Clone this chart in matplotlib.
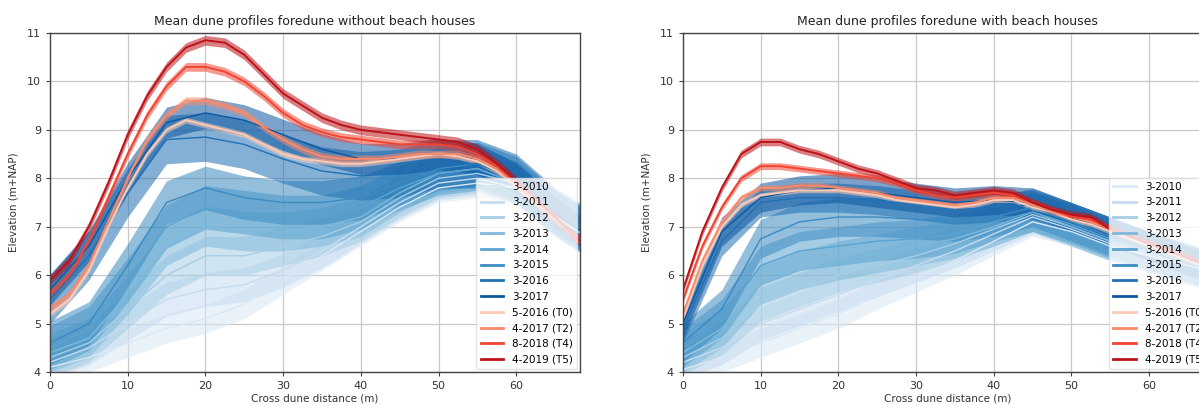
import numpy as np
import matplotlib
matplotlib.use("Agg")
import matplotlib.pyplot as plt

# ---------------- data ----------------
blue_labels = ["3-2010", "3-2011", "3-2012", "3-2013", "3-2014", "3-2015", "3-2016", "3-2017"]
red_labels = ["5-2016 (T0)", "4-2017 (T2)", "8-2018 (T4)", "4-2019 (T5)"]

x_blue = [0, 5, 10, 15, 20, 25, 30, 35, 40, 45, 50, 55, 60, 65, 70]
x_red = [0, 2.5, 5, 7.5, 10, 12.5, 15, 17.5, 20, 22.5, 25, 27.5, 30, 32.5, 35, 37.5,
         40, 42.5, 45, 47.5, 50, 52.5, 55, 57.5, 60, 62.5, 65, 67.5, 70]

# Left panel: foredune without beach houses
left_blue_mean = [
    [4.1, 4.3, 4.6, 4.9, 5.1, 5.4, 5.9, 6.4, 6.9, 7.4, 7.8, 7.9, 7.8, 7.2, 6.7],
    [4.2, 4.5, 5.0, 5.5, 5.7, 5.8, 6.1, 6.5, 7.0, 7.5, 7.9, 8.0, 7.8, 7.2, 6.7],
    [4.3, 4.6, 5.3, 6.0, 6.4, 6.4, 6.6, 6.8, 7.1, 7.6, 8.0, 8.1, 7.9, 7.2, 6.7],
    [4.4, 4.7, 5.6, 6.6, 7.0, 6.9, 6.9, 7.0, 7.2, 7.7, 8.1, 8.2, 7.9, 7.3, 6.8],
    [4.5, 4.9, 5.9, 7.0, 7.4, 7.3, 7.2, 7.2, 7.4, 7.8, 8.1, 8.2, 7.9, 7.3, 6.8],
    [4.6, 5.0, 6.2, 7.5, 7.8, 7.6, 7.5, 7.5, 7.6, 7.9, 8.2, 8.3, 8.0, 7.3, 6.8],
    [5.5, 6.4, 7.7, 8.8, 8.85, 8.7, 8.4, 8.15, 8.05, 8.1, 8.3, 8.3, 8.0, 7.3, 6.8],
    [5.7, 6.6, 8.0, 9.15, 9.35, 9.2, 8.9, 8.6, 8.4, 8.4, 8.5, 8.4, 8.0, 7.3, 6.7],
]
left_blue_std = [0.3, 0.35, 0.4, 0.4, 0.45, 0.45, 0.5, 0.32]

left_red_mean = [
    [5.2, 5.5, 6.1, 7.0, 7.8, 8.5, 9.0, 9.2, 9.1, 9.0, 8.9, 8.7, 8.5, 8.4, 8.35, 8.3,
     8.3, 8.35, 8.4, 8.45, 8.5, 8.45, 8.35, 8.15, 7.85, 7.5, 7.15, 6.8, 6.5],
    [5.3, 5.6, 6.2, 7.1, 8.0, 8.8, 9.3, 9.6, 9.6, 9.5, 9.35, 9.05, 8.8, 8.6, 8.45, 8.4,
     8.4, 8.4, 8.45, 8.5, 8.5, 8.5, 8.4, 8.2, 7.85, 7.5, 7.15, 6.8, 6.5],
    [5.6, 6.0, 6.7, 7.6, 8.5, 9.3, 9.9, 10.3, 10.3, 10.2, 10.0, 9.7, 9.35, 9.1, 8.95, 8.85,
     8.8, 8.75, 8.7, 8.7, 8.7, 8.65, 8.5, 8.25, 7.9, 7.55, 7.2, 6.8, 6.5],
    [5.9, 6.3, 7.0, 7.9, 8.9, 9.7, 10.3, 10.7, 10.85, 10.8, 10.55, 10.15, 9.75, 9.5, 9.25, 9.1,
     9.0, 8.95, 8.9, 8.85, 8.8, 8.75, 8.6, 8.3, 7.95, 7.6, 7.2, 6.8, 6.5],
]
left_red_std = [0.06, 0.08, 0.09, 0.1]

# Right panel: foredune with beach houses
right_blue_mean = [
    [4.05, 4.3, 4.6, 4.9, 5.2, 5.6, 5.95, 6.3, 6.7, 7.1, 6.9, 6.6, 6.4, 6.2, 6.0],
    [4.2, 4.5, 5.0, 5.3, 5.6, 5.9, 6.2, 6.5, 6.85, 7.2, 6.95, 6.65, 6.4, 6.2, 6.0],
    [4.3, 4.7, 5.4, 5.7, 6.0, 6.2, 6.4, 6.65, 6.95, 7.25, 7.0, 6.7, 6.45, 6.2, 6.0],
    [4.4, 4.9, 5.8, 6.1, 6.3, 6.45, 6.6, 6.75, 7.0, 7.3, 7.0, 6.7, 6.45, 6.2, 6.0],
    [4.5, 5.1, 6.2, 6.5, 6.6, 6.7, 6.75, 6.85, 7.1, 7.3, 7.05, 6.75, 6.5, 6.25, 6.0],
    [4.6, 5.3, 6.75, 7.1, 7.2, 7.2, 7.15, 7.1, 7.2, 7.4, 7.1, 6.8, 6.5, 6.25, 6.0],
    [4.9, 6.7, 7.5, 7.6, 7.6, 7.55, 7.45, 7.35, 7.4, 7.45, 7.2, 6.9, 6.6, 6.3, 6.05],
    [5.0, 6.9, 7.6, 7.75, 7.8, 7.7, 7.6, 7.5, 7.55, 7.5, 7.2, 6.9, 6.6, 6.3, 6.05],
]
right_blue_std = [0.3, 0.35, 0.35, 0.4, 0.4, 0.4, 0.3, 0.3]

right_red_mean = [
    [5.1, 6.2, 7.0, 7.45, 7.65, 7.7, 7.75, 7.75, 7.75, 7.7, 7.65, 7.55, 7.5, 7.45, 7.4, 7.45,
     7.55, 7.55, 7.4, 7.3, 7.15, 7.05, 6.9, 6.75, 6.6, 6.45, 6.3, 6.15, 6.0],
    [5.2, 6.3, 7.1, 7.6, 7.8, 7.8, 7.85, 7.85, 7.8, 7.75, 7.7, 7.6, 7.55, 7.5, 7.45, 7.5,
     7.6, 7.6, 7.45, 7.3, 7.2, 7.1, 6.95, 6.8, 6.65, 6.5, 6.35, 6.2, 6.05],
    [5.5, 6.6, 7.4, 8.0, 8.25, 8.25, 8.2, 8.15, 8.1, 8.05, 8.0, 7.9, 7.75, 7.65, 7.6, 7.65,
     7.7, 7.65, 7.5, 7.35, 7.2, 7.15, 6.95, 6.8, 6.65, 6.5, 6.35, 6.2, 6.05],
    [5.7, 6.9, 7.8, 8.5, 8.75, 8.75, 8.6, 8.5, 8.35, 8.2, 8.1, 7.95, 7.8, 7.75, 7.65, 7.7,
     7.75, 7.7, 7.5, 7.35, 7.25, 7.2, 6.95, 6.8, 6.65, 6.5, 6.35, 6.2, 6.05],
]
right_red_std = [0.05, 0.06, 0.07, 0.08]

titles = ["Mean dune profiles foredune without beach houses",
          "Mean dune profiles foredune with beach houses"]
xlabel = "Cross dune distance (m)"
ylabel = "Elevation (m+NAP)"

# ---------------- plot ----------------
blue_colors = plt.cm.Blues(np.linspace(0.15, 0.85, len(blue_labels)))
red_colors = plt.cm.Reds(np.linspace(0.2, 0.8, len(red_labels)))

fig = plt.figure(figsize=(11.99, 4.05), dpi=100)
ax_w = 0.442
ax_h = 0.837
axes = [fig.add_axes([0.0417, 0.0815, ax_w, ax_h]),
        fig.add_axes([0.5696, 0.0815, ax_w, ax_h])]

panels = [
    (left_blue_mean, left_blue_std, left_red_mean, left_red_std),
    (right_blue_mean, right_blue_std, right_red_mean, right_red_std),
]

for ax, (bm, bs, rm, rs), title in zip(axes, panels, titles):
    xb = np.array(x_blue, dtype=float)
    xr = np.array(x_red, dtype=float)
    for m, s, c, lab in zip(bm, bs, blue_colors, blue_labels):
        m = np.array(m)
        ax.fill_between(xb, m - s, m + s, color=c, alpha=0.55, linewidth=0)
        ax.plot(xb, m, color=c, lw=1.0, label=lab)
    for m, s, c, lab in zip(rm, rs, red_colors, red_labels):
        m = np.array(m)
        ax.fill_between(xr, m - s, m + s, color=c, alpha=0.55, linewidth=0)
        ax.plot(xr, m, color=c, lw=1.4, label=lab)
    ax.set_xlim(0, 68.2)
    ax.set_ylim(4, 11)
    ax.set_xticks([0, 10, 20, 30, 40, 50, 60])
    ax.set_yticks([4, 5, 6, 7, 8, 9, 10, 11])
    ax.grid(True, color="#c8c8c8", lw=0.9)
    ax.set_axisbelow(True)
    ax.tick_params(labelsize=8, length=3, color="#444444", labelcolor="#333333")
    for sp in ax.spines.values():
        sp.set_color("#444444")
        sp.set_linewidth(1.0)
    ax.set_title(title, fontsize=9, color="#222222", pad=6)
    ax.set_xlabel(xlabel, fontsize=7.5, color="#333333", labelpad=2)
    ax.set_ylabel(ylabel, fontsize=7.5, color="#333333", labelpad=6)
    leg = ax.legend(loc="lower right", fontsize=7.5, frameon=True, framealpha=0.8,
                    handlelength=2.2, borderaxespad=0.3, labelspacing=0.55)
    for line in leg.get_lines():
        line.set_linewidth(2.0)
    leg.get_frame().set_edgecolor("#dddddd")

fig.savefig("out.png", dpi=100)
